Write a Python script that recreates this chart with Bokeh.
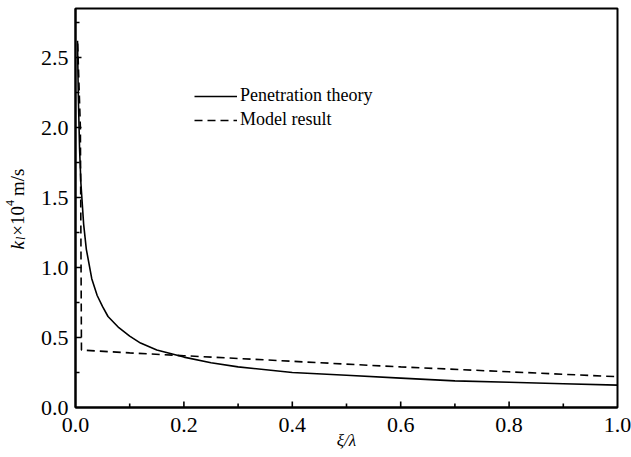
import math
from bokeh.plotting import figure
from bokeh.layouts import row
from bokeh.models import Range1d, Legend, LegendItem, SingleIntervalTicker, NumeralTickFormatter
from bokeh.core.properties import value
from bokeh.embed import file_html
from bokeh.resources import INLINE

# Penetration theory (solid)
pen_x = [0.0037, 0.005, 0.0075, 0.01, 0.015, 0.02, 0.03, 0.04, 0.05, 0.06, 0.08,
         0.1, 0.12, 0.15, 0.2, 0.25, 0.3, 0.4, 0.5, 0.6, 0.7, 0.8, 0.9, 1.0]
pen_y = [2.62, 2.26, 1.85, 1.60, 1.31, 1.13, 0.92, 0.80, 0.72, 0.65, 0.57,
         0.51, 0.46, 0.41, 0.36, 0.32, 0.29, 0.25, 0.23, 0.21, 0.19, 0.18, 0.17, 0.16]

# Model result (dashed)
mod_x = [0.004, 0.009, 0.011, 0.1, 0.2, 0.4, 0.6, 0.8, 1.0]
mod_y = [2.60, 2.00, 0.41, 0.39, 0.37, 0.33, 0.29, 0.255, 0.22]

# tick positions
x_major = [0.2, 0.4, 0.6, 0.8]
x_minor = [0.1, 0.3, 0.5, 0.7, 0.9]
y_major = [0.5, 1.0, 1.5, 2.0, 2.5]
y_minor = [0.25, 0.75, 1.25, 1.75, 2.25, 2.75]

FONT = "Liberation Serif"
W_LAB = 37
TOP, BOTTOM = 8, 50
FRAME_H = 457 - TOP - BOTTOM

# ---------- main plot ----------
p = figure(width=631 - W_LAB, height=457, output_backend="svg", toolbar_location=None,
           x_range=Range1d(0, 1.0), y_range=Range1d(0, 2.85),
           min_border_left=74 - W_LAB, min_border_right=14,
           min_border_top=TOP, min_border_bottom=BOTTOM)
p.grid.visible = False
p.outline_line_color = "black"
p.outline_line_width = 2

r1 = p.line(pen_x, pen_y, line_color="black", line_width=1.6)
r2 = p.line(mod_x, mod_y, line_color="black", line_width=1.6, line_dash="8 5")

# inward ticks (half of each dash lies inside the frame)
p.scatter(x_major, [0] * len(x_major), marker="dash", size=12, angle=math.pi / 2,
          line_color="black", line_width=1.6)
p.scatter(x_minor, [0] * len(x_minor), marker="dash", size=8, angle=math.pi / 2,
          line_color="black", line_width=1.6)
p.scatter([0] * len(y_major), y_major, marker="dash", size=12,
          line_color="black", line_width=1.6)
p.scatter([0] * len(y_minor), y_minor, marker="dash", size=8,
          line_color="black", line_width=1.6)

p.xaxis.ticker = SingleIntervalTicker(interval=0.2, num_minor_ticks=0)
p.yaxis.ticker = SingleIntervalTicker(interval=0.5, num_minor_ticks=0)
p.axis.formatter = NumeralTickFormatter(format="0.0")
p.axis.axis_line_width = 2
p.axis.axis_line_color = "black"
p.axis.major_tick_in = 0
p.axis.major_tick_out = 0
p.axis.minor_tick_in = 0
p.axis.minor_tick_out = 0
p.axis.major_label_text_font = FONT
p.axis.major_label_text_font_size = "22px"
p.axis.major_label_text_color = "black"
p.xaxis.major_label_standoff = 10
p.yaxis.major_label_standoff = 7
p.xaxis.axis_label = "\u03be/\u03bb"
p.xaxis.axis_label_text_font = FONT
p.xaxis.axis_label_text_font_style = "italic"
p.xaxis.axis_label_text_font_size = "17px"
p.xaxis.axis_label_standoff = -4
p.xaxis.axis_label_text_color = "black"

legend = Legend(items=[LegendItem(label="Penetration theory", renderers=[r1]),
                       LegendItem(label="Model result", renderers=[r2])],
                location=(119, 277), padding=0, margin=0, spacing=3,
                border_line_color=None, background_fill_alpha=0,
                glyph_width=43, glyph_height=20, label_height=20, label_standoff=3,
                label_text_font=FONT, label_text_font_size="18px", label_text_color="black")
p.add_layout(legend)

# ---------- y-axis title strip (frame matches the main frame vertically) ----------
q = figure(width=W_LAB, height=457, output_backend="svg", toolbar_location=None,
           x_range=Range1d(0, W_LAB), y_range=Range1d(0, FRAME_H),
           x_axis_location=None, y_axis_location=None,
           min_border_left=0, min_border_right=0,
           min_border_top=TOP, min_border_bottom=BOTTOM)
q.grid.visible = False
q.outline_line_color = None

ang = math.pi / 2
bx = 17
y0 = 407 - 249   # frame-relative position of the label start
fs = 19
sfs = 12
pieces = [
    ("k", fs, "italic", 0, 0.5 * fs),
    ("l", sfs, "italic", 3, 0.278 * sfs + 1),
    ("\u00d710", fs, "normal", 0, (0.564 + 1.0) * fs),
    ("4", sfs, "normal", -8, 0.5 * sfs + 4),
    ("m/s", fs, "normal", 0, 0),
]
cy = y0
for txt, size, style, dx, w in pieces:
    q.text(x=[bx + dx], y=[cy], text=[txt], angle=ang,
           text_font=value(FONT), text_font_size=value(f"{size}px"),
           text_font_style=value(style), text_color="black",
           text_align="left", text_baseline="alphabetic")
    cy += w

layout = row(q, p, spacing=0)
open("out.html", "w").write(file_html(layout, INLINE))
